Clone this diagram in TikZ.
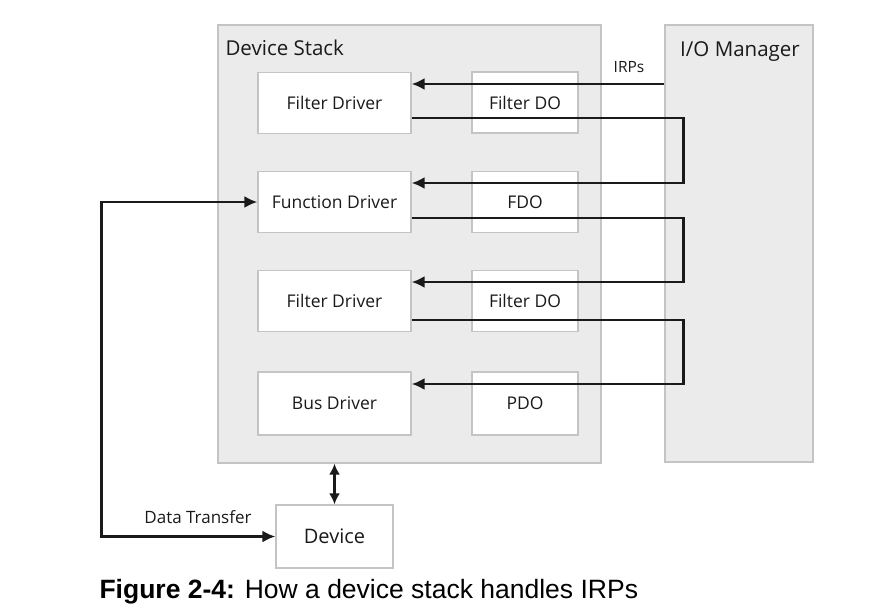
\documentclass[tikz,border=0pt]{standalone}
\usepackage{fontspec}
\setmainfont{Open Sans}
\newfontfamily\capfont{Liberation Sans}
\usetikzlibrary{arrows.meta}
\definecolor{panel}{HTML}{EBEBEB}
\definecolor{edge}{HTML}{C4C4C4}
\definecolor{ink}{HTML}{1A1A1A}
\begin{document}
\begin{tikzpicture}[x=1pt,y=-1pt,
    panel/.style={draw=edge,fill=panel,line width=1.2pt,inner sep=0pt},
    drv/.style={draw=edge,fill=white,line width=1.2pt,minimum width=153pt,minimum height=61pt,font=\fontsize{17.5}{20}\selectfont,text=ink},
    obj/.style={drv,minimum width=106pt},
    irp/.style={draw=ink,line width=2.6pt,-{Latex[length=13pt,width=12pt]}},
    lbl/.style={font=\fontsize{17}{19}\selectfont,text=ink}]
    \useasboundingbox (0,0) rectangle (895,613);
    % the two panels
    \node[panel,minimum width=383pt,minimum height=438pt] (stack) at (409.5,244) {};
    \node[panel,minimum width=148pt,minimum height=437pt] (iom) at (739,243.5) {};
    \node[font=\fontsize{20.5}{23}\selectfont,text=ink,anchor=west] (stacklbl) at (222,48) {Device Stack};
    \node[font=\fontsize{20.5}{23}\selectfont,text=ink] (iomlbl) at (740,52) {I/O Manager};

    % drivers and device objects
    \node[drv] (fd1) at (334.5,103) {Filter Driver};
    \node[obj] (fdo1) at (525,102.5) {Filter DO};
    \node[drv] (fnd) at (334.5,202) {Function Driver};
    \node[obj] (fdo) at (525,202) {FDO};
    \node[drv] (fd2) at (334.5,301) {Filter Driver};
    \node[obj] (fdo2) at (525,301) {Filter DO};
    \node[drv,minimum height=63pt] (bus) at (334.5,403.5) {Bus Driver};
    \node[obj,minimum height=63pt] (pdo) at (525,403.5) {PDO};
    \node[drv,minimum width=117pt,minimum height=63pt,font=\fontsize{20}{22}\selectfont] (dev) at (334.5,536.5) {Device};

    % IRPs going down the stack
    \draw[irp] (iom.west |- 0,84) -- ([yshift=19pt]fd1.east);
    \node[lbl,font=\fontsize{15.5}{17}\selectfont] (irplbl) at (629,67) {IRPs};
    \draw[irp] ([yshift=-15pt]fd1.east) -- ++(272,0) |- ([yshift=19pt]fnd.east);
    \draw[irp] ([yshift=-16pt]fnd.east) -- ++(272,0) |- ([yshift=19pt]fd2.east);
    \draw[irp] ([yshift=-19pt]fd2.east) -- ++(272,0) |- ([yshift=19.5pt]bus.east);

    % device link and data transfer
    \draw[irp,{Latex[length=11pt,width=11pt]}-{Latex[length=11pt,width=11pt]}] (dev.north) -- (dev.north |- stack.south);
    \draw[irp,{Latex[length=13pt,width=12pt]}-{Latex[length=13pt,width=12pt]}] (fnd.west) -- ++(-156,0) |- (dev.west);
    \node[lbl] (dtlbl) at (198,517) {Data Transfer};

    \node[anchor=west,font=\capfont\fontsize{26.5}{28}\selectfont] (cap) at (96,592) {\textbf{Figure 2-4:} How a device stack handles IRPs};
\end{tikzpicture}
\end{document}
